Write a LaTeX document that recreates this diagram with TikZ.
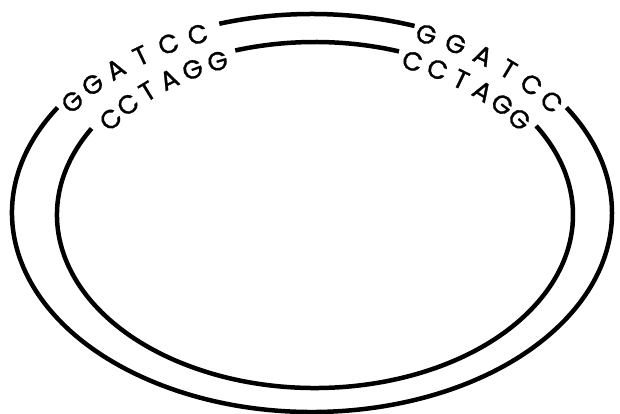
\documentclass[tikz,border=0pt]{standalone}
\usepackage{fontspec}
\newfontfamily\dnafont{Poppins}[FakeBold=1.2]
\begin{document}
\begin{tikzpicture}[x=1pt,y=1pt,
  strand/.style={line width=4.5pt},
  base/.style={inner sep=0pt, font=\dnafont\fontsize{26}{26}\selectfont}]
\fill[white] (0,0) rectangle (620,414);
\useasboundingbox (0,0) rectangle (620,414);
\coordinate (O) at (312,201);
\coordinate (I) at (315,199);
% outer strand
\draw[strand] ([shift={(148:300 and 199)}]O) arc[start angle=148, end angle=392, x radius=300, y radius=199];
\draw[strand] ([shift={(108:300 and 199)}]O) arc[start angle=108, end angle=70, x radius=300, y radius=199];
% inner strand
\draw[strand] ([shift={(150:258 and 173)}]I) arc[start angle=150, end angle=391, x radius=258, y radius=173];
\draw[strand] ([shift={(108:258 and 173)}]I) arc[start angle=108, end angle=71, x radius=258, y radius=173];
% outer letters
\foreach \L [count=\i] in {G,G,A,T,C,C}{
  \pgfmathsetmacro\ta{145-6.4*(\i-1)}
  \pgfmathsetmacro\ra{atan2(-199*cos(\ta),300*sin(\ta))}
  \node[base, rotate=\ra] (oL\i) at ([shift={(\ta:292.5 and 194)}]O) {\L};
  \pgfmathsetmacro\tb{67-6.4*(\i-1)}
  \pgfmathsetmacro\rb{atan2(-199*cos(\tb),300*sin(\tb))}
  \node[base, rotate=\rb] (oR\i) at ([shift={(\tb:292.5 and 194)}]O) {\L};
}
% inner letters
\foreach \L [count=\i] in {C,C,T,A,G,G}{
  \pgfmathsetmacro\ta{145-6.4*(\i-1)}
  \pgfmathsetmacro\ra{atan2(-173*cos(\ta),258*sin(\ta))}
  \node[base, rotate=\ra] (iL\i) at ([shift={(\ta:249.5 and 167)}]I) {\L};
  \pgfmathsetmacro\tb{67-6.4*(\i-1)}
  \pgfmathsetmacro\rb{atan2(-173*cos(\tb),258*sin(\tb))}
  \node[base, rotate=\rb] (iR\i) at ([shift={(\tb:249.5 and 167)}]I) {\L};
}
\end{tikzpicture}
\end{document}
